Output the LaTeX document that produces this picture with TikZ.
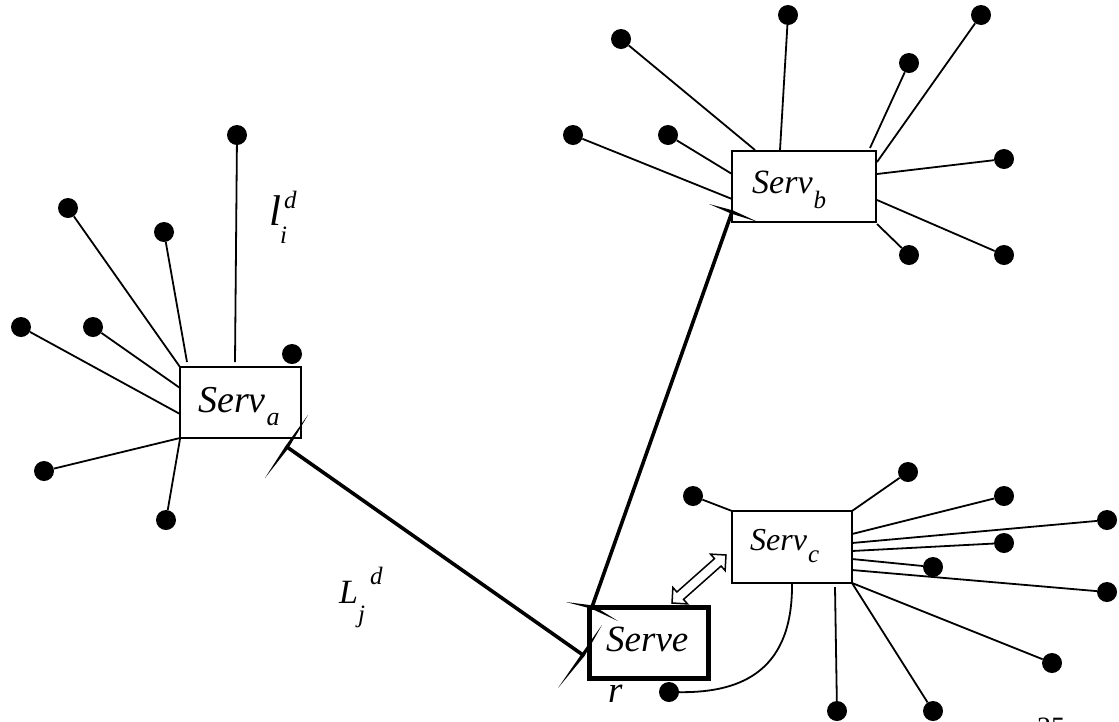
\documentclass[tikz,border=0pt]{standalone}
\usepackage{fontspec}
\setmainfont{Liberation Serif}[ItalicFont={Liberation Serif Italic}]
\newfontfamily\timesit{Liberation Serif Italic}
\usetikzlibrary{calc}
\newcommand\myfs[1]{\fontsize{#1}{#1}\selectfont}
\newcommand\tickw[3]{\fill ($(#1)$) -- ($(#2)!1.8pt!90:(#3)$) -- ($(#3)$) -- ($(#2)!1.8pt!-90:(#3)$) -- cycle;}
\tikzset{
  dot/.style={circle, fill=black, inner sep=0pt, minimum size=20pt},
  spoke/.style={line width=1.8pt},
  box/.style={draw, line width=1.6pt, inner sep=0pt, fill=white},
  trunk/.style={line width=3.6pt},
  lbl/.style={inner sep=0pt, anchor=base west, font=\timesit},
}
\begin{document}
\begin{tikzpicture}[x=1pt,y=-1pt]
\useasboundingbox (0,0) rectangle (1119,721);

% ---- Serv_a spokes
\node[dot] (a1) at (237,135) {};
\node[dot] (a2) at (68,208) {};
\node[dot] (a3) at (164,232) {};
\node[dot] (a4) at (21,327) {};
\node[dot] (a5) at (93,327) {};
\node[dot] (a6) at (292,354) {};
\node[dot] (a7) at (44,471) {};
\node[dot] (a8) at (166,520) {};
\draw[spoke] (a1) -- (235,362);
\draw[spoke] (a2) -- (180,367);
\draw[spoke] (a3) -- (187,362);
\draw[spoke] (a4) -- (180,414);
\draw[spoke] (a5) -- (180,388);
\draw[spoke] (a7) -- (180,438);
\draw[spoke] (a8) -- (180,439);

% ---- Serv_b spokes
\node[dot] (b1) at (621,39) {};
\node[dot] (b2) at (788,15) {};
\node[dot] (b3) at (981,15) {};
\node[dot] (b4) at (909,63) {};
\node[dot] (b5) at (573,135) {};
\node[dot] (b6) at (668,135) {};
\node[dot] (b7) at (1004,159) {};
\node[dot] (b8) at (1004,255) {};
\node[dot] (b9) at (909,255) {};
\draw[spoke] (b1) -- (755,150);
\draw[spoke] (b2) -- (780,150);
\draw[spoke] (b3) -- (877,162);
\draw[spoke] (b4) -- (870,148);
\draw[spoke] (b5) -- (732,199);
\draw[spoke] (b6) -- (732,174);
\draw[spoke] (b7) -- (877,174);
\draw[spoke] (b8) -- (877,200);
\draw[spoke] (b9) -- (877,224);

% ---- Serv_c spokes
\node[dot] (c1) at (693,496) {};
\node[dot] (c2) at (908,472) {};
\node[dot] (c3) at (1004,496) {};
\node[dot] (c4) at (1107,520) {};
\node[dot] (c5) at (1004,543) {};
\node[dot] (c6) at (933,567) {};
\node[dot] (c7) at (1107,592) {};
\node[dot] (c8) at (1052,663) {};
\node[dot] (c9) at (933,711) {};
\node[dot] (c10) at (837,711) {};
\node[dot] (c11) at (669,692) {};
\draw[spoke] (c1) -- (732,511);
\draw[spoke] (c2) -- (852,511);
\draw[spoke] (c3) -- (852,534);
\draw[spoke] (c4) -- (852,543);
\draw[spoke] (c5) -- (852,551);
\draw[spoke] (c6) -- (852,559);
\draw[spoke] (c7) -- (852,570);
\draw[spoke] (c8) -- (852,583);
\draw[spoke] (c9) -- (852,583);
\draw[spoke] (c10) -- (835,587);
\coordinate (cb) at (792,583);
\draw[spoke] (cb) .. controls (793,668) and (745,693) .. (c11);

% ---- trunk lines
\coordinate (ja) at (287,447);
\coordinate (jb) at (583,655);
\coordinate (jc) at (592,607);
\coordinate (jd) at (732,212);
\draw[trunk] (ja) -- (jb);
\draw[trunk] (jc) -- (jd);

% ---- "r" under Serve
\node[lbl] (sr) at (608,702) {\myfs{37}r};

% ---- boxes
\node[box, minimum width=121, minimum height=71] (A) at (240.5,402.5) {};
\node[box, minimum width=144, minimum height=71] (B) at (804,186.5) {};
\node[box, minimum width=120, minimum height=72] (C) at (792,547) {};
\node[box, line width=5pt, minimum width=119, minimum height=71] (S) at (648.5,642.5) {};

% ---- labels
\node[lbl] (ta) at (198,412) {\myfs{38}Serv\kern1pt\raisebox{-13pt}{\myfs{26}a}};
\node[lbl] (tb) at (752,193) {\myfs{34}Serv\kern1pt\raisebox{-15pt}{\myfs{25}b}};
\node[lbl] (tc) at (750,550) {\myfs{32}Serv\kern1pt\raisebox{-12pt}{\myfs{25}c}};
\node[lbl] (ts) at (606,651) {\myfs{37}Serve};
\node[lbl] (tl) at (269,225) {\myfs{43}l\kern-1pt\rlap{\raisebox{-18pt}{\myfs{25}i}}\kern4pt\raisebox{17pt}{\myfs{25}d}};
\node[lbl] (tL) at (339,603) {\myfs{34}L\kern0pt\rlap{\raisebox{-19pt}{\myfs{25}j}}\kern12pt\raisebox{19pt}{\myfs{25}d}};
\node[inner sep=0pt, anchor=north west] (pg) at (1037,718) {\myfs{28}25};

% ---- tick wedges
\coordinate (w1a) at (265,478); \coordinate (w1b) at (308,415);
\coordinate (w2a) at (558,688); \coordinate (w2b) at (602,625);
\coordinate (w3a) at (566,602); \coordinate (w3b) at (618,621);
\coordinate (w4a) at (709,204); \coordinate (w4b) at (758,222);
\tickw{w1a}{ja}{w1b}
\tickw{w2a}{jb}{w2b}
\tickw{w3a}{jc}{w3b}
\tickw{w4a}{jd}{w4b}

% ---- hollow double arrow between Serve and Serv_c
\draw[line width=1.5pt, fill=white, line join=miter]
  (672,603) -- (687.5,603.9) -- (683.5,599.4) -- (721.1,566.0) -- (725.1,570.5)
  -- (726,555) -- (710.5,554.1) -- (714.5,558.6) -- (676.9,592.0) -- (672.9,587.5) -- cycle;
\end{tikzpicture}
\end{document}
